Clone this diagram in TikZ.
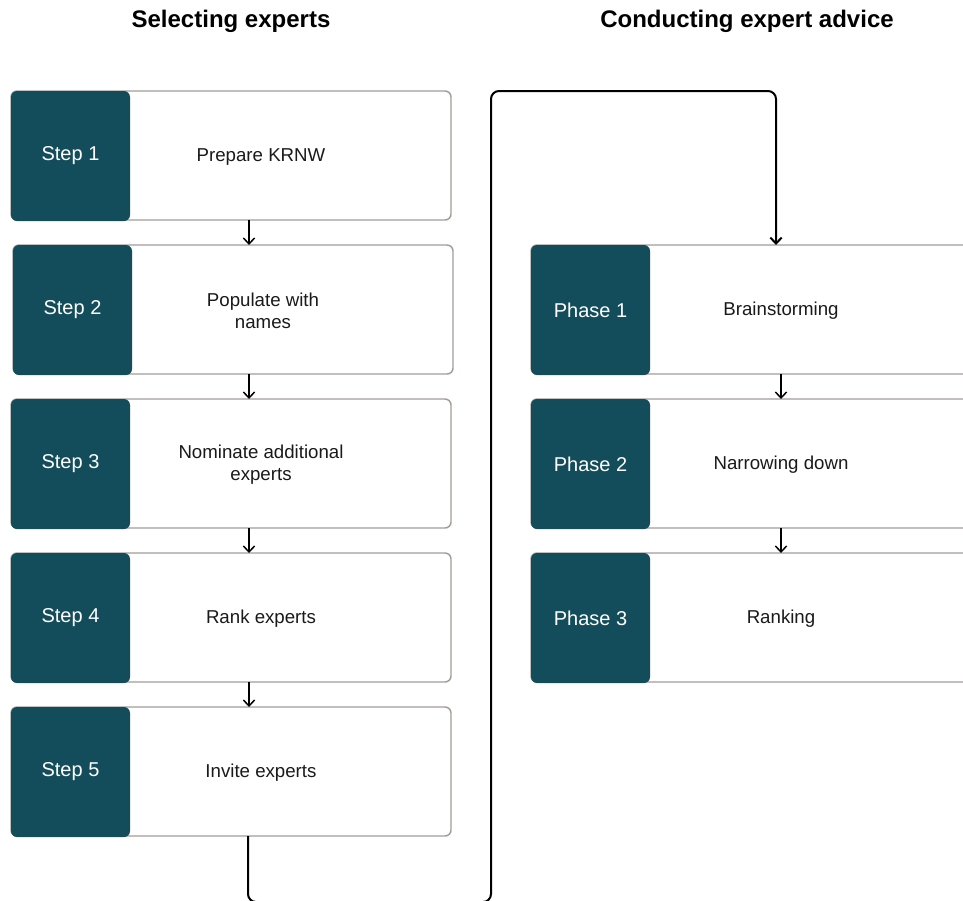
\documentclass[tikz,border=0pt]{standalone}
\usepackage{fontspec}
\setmainfont{Liberation Sans}
\usetikzlibrary{arrows.meta,calc}
\definecolor{stepteal}{HTML}{134D5B}
\definecolor{cardline}{HTML}{A29D98}
\definecolor{inktext}{HTML}{1A1A1A}
\begin{document}
\begin{tikzpicture}[x=0.75pt,y=-0.75pt,
  card/.style={draw=cardline, line width=1.1pt, fill=white, rounded corners=4.5pt,
    minimum width=330pt, minimum height=96.75pt, inner sep=0pt, outer sep=0pt},
  tag/.style={fill=stepteal, rounded corners=4.5pt, minimum width=89.25pt,
    minimum height=97.5pt, inner sep=0pt, outer sep=0pt, text=white,
    font=\fontsize{15}{18}\selectfont},
  cardtext/.style={text=inktext, align=center, font=\fontsize{14}{16.5}\selectfont},
  heading/.style={text=black, font=\fontsize{18}{22}\selectfont\bfseries},
  flow/.style={draw=black, line width=1.1pt, -{Straight Barb[length=4.5pt,width=8.5pt]}},
  loop/.style={flow, line width=1.5pt, rounded corners=6pt}
]
\useasboundingbox (0,0) rectangle (963,900);
\clip (0,0) rectangle (963,900);

% column headings
\node[heading] (h1) at (231,21) {Selecting experts};
\node[heading] (h2) at (747,21) {Conducting expert advice};

% selecting experts: five steps
\foreach \i/\x/\y/\txt in {1/11/91/Prepare KRNW,
                           2/13/245/{Populate with\\names},
                           3/11/399/{Nominate additional\\experts},
                           4/11/553/Rank experts,
                           5/11/707/Invite experts}{
  \node[card, anchor=north west] (s\i) at (\x,\y) {};
  \node[tag, anchor=north west] (s\i t) at (\x,\y) {Step \i};
  \node[cardtext] (s\i x) at ($(\x,\y)+(250,66)$) {\txt};
}

% conducting expert advice: three phases
\foreach \i/\y/\txt in {1/245/Brainstorming,
                        2/399/Narrowing down,
                        3/553/Ranking}{
  \node[card, anchor=north west] (p\i) at (531,\y) {};
  \node[tag, anchor=north west] (p\i t) at (531,\y) {Phase \i};
  \node[cardtext] (p\i x) at ($(531,\y)+(250,66)$) {\txt};
}

% arrows between steps
\draw[flow] ($(s1.south west)+(238,0)$) -- ($(s2.north west)+(236,0)$);
\draw[flow] ($(s2.south west)+(236,0)$) -- ($(s3.north west)+(238,0)$);
\draw[flow] ($(s3.south west)+(238,0)$) -- ($(s4.north west)+(238,0)$);
\draw[flow] ($(s4.south west)+(238,0)$) -- ($(s5.north west)+(238,0)$);

% arrows between phases
\draw[flow] ($(p1.south west)+(250,0)$) -- ($(p2.north west)+(250,0)$);
\draw[flow] ($(p2.south west)+(250,0)$) -- ($(p3.north west)+(250,0)$);

% return line from the last step to the first phase
\coordinate (lowturn) at (491,902);
\coordinate (highturn) at (491,91);
\draw[loop] ($(s5.south west)+(237,0)$) |- (lowturn) -- (highturn)
  -| ($(p1.north west)+(245,0)$);
\end{tikzpicture}
\end{document}
